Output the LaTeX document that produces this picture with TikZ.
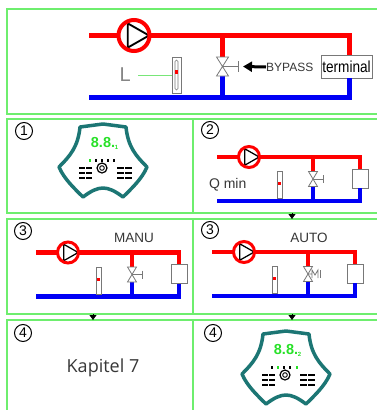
\documentclass[tikz,border=0pt]{standalone}
\usepackage{fontspec}
\setmainfont{Liberation Sans}
\newfontfamily\kapfont{Open Sans}
\usetikzlibrary{arrows.meta, positioning}

\definecolor{pipered}{RGB}{255,0,0}
\definecolor{pipeblue}{RGB}{0,0,245}
\definecolor{panelgreen}{RGB}{110,238,110}
\definecolor{leadgreen}{RGB}{120,230,120}
\definecolor{shellteal}{RGB}{28,118,116}
\definecolor{lcdgreen}{RGB}{40,225,40}
\definecolor{labelgray}{RGB}{55,55,55}
\definecolor{partgray}{RGB}{120,120,120}

\tikzset{
  panel/.style={rectangle, draw=panelgreen, line width=1.2pt, inner sep=0pt, outer sep=0pt},
  supply/.style={draw=pipered, line width=4.5pt, line join=miter},
  return/.style={draw=pipeblue, line width=4.5pt, line join=miter},
  pump/.style 2 args={circle, draw=pipered, fill=white, line width=#2pt, inner sep=0pt,
    minimum size=2*#1pt,
    path picture={\draw[black, line width=0.12*#1pt, line join=miter]
      (path picture bounding box.center) ++(-0.4*#1pt,0.78*#1pt)
      -- ++(1.37*#1pt,-0.78*#1pt) -- ++(-1.37*#1pt,-0.78*#1pt) -- cycle;}},
  valve/.style={draw=partgray, fill=white, line width=0.8pt, line join=miter},
  handle/.style={draw=partgray, line width=0.8pt},
  meter/.style={rectangle, draw=partgray, fill=white, line width=0.8pt, inner sep=0pt},
  consumer/.style={rectangle, draw=partgray, fill=white, line width=0.8pt, inner sep=0pt,
    minimum width=16pt, minimum height=19pt},
  badge/.style={circle, draw, line width=1pt, inner sep=0pt, minimum size=17pt,
    font=\fontsize{14}{14}\selectfont},
  caption/.style={text=labelgray, inner sep=0pt, font=\fontsize{13.5}{15}\selectfont},
  nexttip/.style={-{Triangle[width=7pt,length=5pt]}, line width=0.4pt},
  devshell/.style={draw=shellteal, fill=white, line width=3.5pt, line join=round},
  lcd/.style={text=lcdgreen, inner sep=0pt, font=\fontsize{14.5}{14.5}\selectfont\bfseries},
  % control unit: #1 = small digit, #2 = icon positions/colours
  pics/controller/.style 2 args={code={
    \draw[devshell] (-23,4) -- (0,1) -- (23,4)
      .. controls (25,24) and (33,33) .. (44,44)
      .. controls (39,56) and (28,66) .. (20,74)
      .. controls (12,68) and (6,65) .. (0,65)
      .. controls (-6,65) and (-12,68) .. (-20,74)
      .. controls (-28,66) and (-39,56) .. (-44,44)
      .. controls (-33,33) and (-25,24) .. (-23,4) -- cycle;
    \node[lcd] at (0,20) {8.8.};
    \node[lcd, font=\fontsize{6}{6}\selectfont\bfseries] at (13.5,24) {#1};
    \foreach \ix/\ic in {#2} \fill[\ic] (\ix-1,35.5) rectangle (\ix+1,38.5);
    \draw[line width=1.2pt] (-1,45) circle (5pt);
    \draw[line width=0.9pt] (-1,45) circle (2.3pt);
    \foreach \ry in {45,50,55} {
      \draw[line width=2.2pt] (-24,\ry) -- (-18,\ry) (-17,\ry) -- (-11,\ry);
      \draw[line width=2.2pt] (14,\ry) -- (21,\ry) (22,\ry) -- (29,\ry);
    }
  }}
}

\begin{document}
\begin{tikzpicture}[x=1pt, y=-1pt]
\useasboundingbox[fill=white] (0,0) rectangle (376,410);

% frames
\node[panel, minimum width=373pt, minimum height=105pt] (overview) at (193.5,61.5) {};
\node[panel, minimum width=186pt, minimum height=94pt, below right=5pt and 0pt of overview.south west] (p1) {};
\node[panel, minimum width=187pt, minimum height=94pt, right=0pt of p1] (p2) {};
\node[panel, minimum width=186pt, minimum height=95pt, below=6pt of p1] (p3m) {};
\node[panel, minimum width=187pt, minimum height=95pt, right=0pt of p3m] (p3a) {};
\node[panel, minimum width=186pt, minimum height=95pt, below=6pt of p3m] (p4k) {};
\node[panel, minimum width=187pt, minimum height=95pt, right=0pt of p4k] (p4d) {};

\draw[nexttip] ([xshift=5.5pt]p2.south) -- ([xshift=5.5pt]p3a.north);
\draw[nexttip] ([xshift=-7pt]p3m.south) -- ([xshift=-7pt]p4k.north);
\draw[nexttip] ([xshift=5.5pt]p3a.south) -- ([xshift=5.5pt]p4d.north);

% overview loop with bypass
\coordinate (sup) at (89,35.5);
\coordinate (ret) at (89,97.5);
\coordinate (byp) at (222.5,35.5);
\coordinate (vt) at (222.5,57);
\coordinate (vb) at (222.5,76);
\coordinate (vc) at (222.5,66.5);
\node[consumer, minimum width=51pt, minimum height=23pt, font=\fontsize{16}{16}\selectfont]
  (term) at (346.5,66.5) {\scalebox{0.85}[1]{terminal}};
\draw[supply, line width=5pt] (sup) -| ([xshift=3pt]term.north);
\draw[return, line width=5pt] (ret) -| ([xshift=3pt]term.south);
\draw[supply, line width=5pt] (byp) -- (vt);
\draw[return, line width=5pt] (vb) -- (byp |- ret);
\draw[valve] ([xshift=-6pt]vt) -- ([xshift=6pt]vt) -- ([xshift=-6pt]vb) -- ([xshift=6pt]vb) -- cycle;
\draw[handle] (vc) -- (238,66.5) coordinate (hdl);
\draw[handle] ([yshift=5.5pt]hdl) -- ([yshift=-5.5pt]hdl);
\node[caption, anchor=west, font=\fontsize{12}{12}\selectfont] (bptxt) at (266,67) {BYPASS};
\draw[line width=3pt, -{Triangle[length=9pt,width=10pt]}] (bptxt.west) -- ([xshift=5pt]hdl);
\node[meter, minimum width=9pt, minimum height=36pt] (fm) at (176.5,75) {};
\draw[partgray, line width=0.7pt, rounded corners=1.5pt] (175,60) rectangle (178,90);
\fill[pipered] (175,70) rectangle (178,74);
\node[text=partgray!90, inner sep=0pt, anchor=east, font=\fontsize{20}{20}\selectfont] (lvl) at (131,75) {L};
\draw[leadgreen, line width=0.8pt] ([xshift=7pt]lvl.east) -- (fm.west);
\node[pump={15.5}{4}] (pmp) at (134,35.5) {};

% the three small loops
\foreach \px/\py/\nm in {217/157/a, 36/252.5/b, 212/252/c} {
  \begin{scope}[shift={(\px,\py)}]
    \coordinate (s\nm) at (0,0);
    \coordinate (r\nm) at (0,44);
    \coordinate (by\nm) at (96,0);
    \coordinate (vt\nm) at (96,14.5);
    \coordinate (vb\nm) at (96,29.5);
    \coordinate (vc\nm) at (96,22);
    \node[consumer] (box\nm) at (143,21.5) {};
    \draw[supply] (s\nm) -| (box\nm.north);
    \draw[return] (r\nm) -| (box\nm.south);
    \draw[supply] (by\nm) -- (vt\nm);
    \draw[return] (vb\nm) -- (by\nm |- r\nm);
    \draw[valve] ([xshift=-4.5pt]vt\nm) -- ([xshift=4.5pt]vt\nm) -- ([xshift=-4.5pt]vb\nm) -- ([xshift=4.5pt]vb\nm) -- cycle;
    \node[meter, minimum width=5pt, minimum height=27pt] (fm\nm) at (62.5,28) {};
    \fill[pipered] (61,25) rectangle (64,28);
    \node[pump={10.5}{3}] (pump\nm) at (32,0) {};
  \end{scope}
}
\foreach \nm in {a,b} {
  \draw[handle] (vc\nm) -- ++(10,0) coordinate (hd\nm);
  \draw[handle] ([yshift=4pt]hd\nm) -- ([yshift=-4pt]hd\nm);
}
% motor drive
\draw[handle] (vcc) -- ++(4,0) ++(0,4) -- ++(0,-8) -- ++(3,5) -- ++(3,-5) -- ++(0,8);
\draw[handle] ([xshift=12pt,yshift=4pt]vcc) -- ([xshift=12pt,yshift=-4pt]vcc);

\node[caption, font=\fontsize{14}{14}\selectfont, left=30pt of fma] (qmin) {Q min};
\node[caption] (manu) at (134,238) {MANU};
\node[caption] (auto) at (309,238) {AUTO};

% step numbers
\node[badge] (n1) at (24,131) {1};
\node[badge] (n2) at (210,130) {2};
\node[badge] (n3m) at (23,231) {3};
\node[badge] (n3a) at (210,230) {3};
\node[badge] (n4k) at (23,333) {4};
\node[badge] (n4d) at (213,333) {4};

\pic at (103,123) {controller={1}{-13/lcdgreen,-7/black,-1/black,5/black,11/black}};
\pic at (286,330) {controller={2}{-14/black,-8/lcdgreen,-2/black,4/black,11/lcdgreen}};

\node[text=labelgray, font=\kapfont\fontsize{18}{18}\selectfont] (kap) at (103,368) {Kapitel 7};
\end{tikzpicture}
\end{document}
